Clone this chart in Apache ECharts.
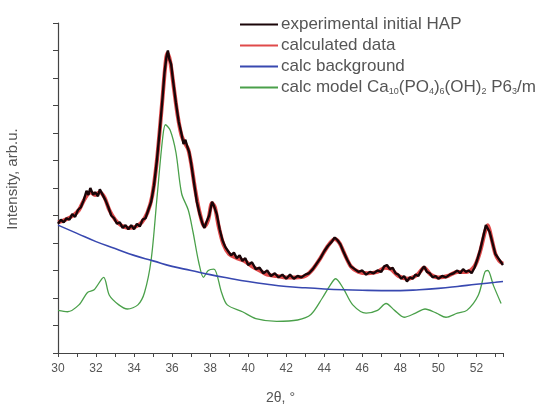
<!DOCTYPE html>
<html><head><meta charset="utf-8">
<script src="https://cdn.jsdelivr.net/npm/echarts@6/dist/echarts.min.js"></script>
<style>html,body{margin:0;padding:0;background:#fff}#c{width:545px;height:407px}</style>
</head><body><div id="c"></div>
<script>
const seriesNames = ['experimental initial HAP', 'calculated data', 'calc background', 'calc model'];
const xTicks = [30, 32, 34, 36, 38, 40, 42, 44, 46, 48, 50, 52];

const expX = [30.0,30.15,30.3,30.45,30.6,30.75,30.9,31.05,31.2,31.35,31.5,31.6,31.7,31.85,31.95,32.1,32.2,32.35,32.5,32.65,32.8,32.95,33.1,33.25,33.4,33.55,33.7,33.85,34.0,34.15,34.3,34.45,34.6,34.75,34.9,35.05,35.2,35.35,35.5,35.6,35.7,35.78,35.85,35.95,36.05,36.2,36.35,36.5,36.6,36.7,36.8,36.9,37.0,37.15,37.3,37.45,37.6,37.7,37.8,37.95,38.1,38.2,38.35,38.5,38.65,38.8,38.95,39.1,39.25,39.4,39.55,39.7,39.85,40.0,40.2,40.4,40.6,40.8,41.0,41.2,41.4,41.6,41.8,42.0,42.2,42.4,42.6,42.8,43.0,43.2,43.4,43.6,43.8,44.0,44.2,44.4,44.55,44.7,44.85,45.0,45.2,45.4,45.6,45.8,46.0,46.2,46.4,46.6,46.8,47.0,47.15,47.3,47.45,47.6,47.75,47.9,48.05,48.2,48.35,48.5,48.65,48.8,48.95,49.1,49.25,49.4,49.55,49.7,49.85,50.0,50.2,50.4,50.6,50.8,51.0,51.15,51.3,51.45,51.6,51.75,51.9,52.05,52.2,52.35,52.5,52.6,52.7,52.85,53.0,53.15,53.3,53.4];
const expY = [4.7,4.85,4.75,4.9,4.85,5.05,4.95,5.2,5.3,5.55,5.9,5.75,6.0,5.75,5.85,5.7,5.95,5.75,5.55,5.3,5.0,4.9,4.7,4.75,4.55,4.65,4.5,4.65,4.5,4.7,4.6,4.85,4.9,5.2,5.5,6.1,7.0,8.1,9.3,10.2,10.75,11.0,10.7,10.5,9.9,9.1,8.4,7.95,7.6,7.75,7.5,7.3,6.9,6.2,5.5,5.05,4.7,4.55,4.75,5.0,5.5,5.35,5.05,4.5,4.1,3.85,3.7,3.55,3.65,3.45,3.55,3.35,3.45,3.2,3.3,3.05,3.1,2.9,3.0,2.8,2.9,2.75,2.85,2.7,2.85,2.7,2.8,2.75,2.85,2.9,3.05,3.25,3.45,3.7,3.9,4.05,4.2,4.1,3.95,3.7,3.4,3.15,3.05,2.95,3.0,2.85,2.95,2.9,3.0,2.95,3.15,3.2,3.05,3.1,2.9,2.85,2.7,2.8,2.6,2.75,2.7,2.85,2.8,3.0,3.15,2.95,2.9,2.75,2.8,2.7,2.8,2.75,2.85,2.9,3.0,2.9,3.05,2.95,3.0,2.9,3.1,3.4,3.75,4.2,4.65,4.7,4.4,4.0,3.6,3.45,3.3,3.2];

const calcX = [30.0,30.4,30.8,31.1,31.4,31.7,31.95,32.2,32.45,32.7,33.0,33.3,33.7,34.1,34.4,34.7,34.95,35.2,35.45,35.65,35.75,35.9,36.1,36.3,36.5,36.7,36.85,37.0,37.2,37.45,37.7,37.9,38.1,38.25,38.45,38.7,39.0,39.4,39.8,40.2,40.6,41.0,41.5,42.0,42.5,43.0,43.4,43.8,44.2,44.55,44.8,45.1,45.4,45.8,46.3,46.8,47.2,47.5,47.9,48.4,48.9,49.25,49.6,50.0,50.5,51.0,51.5,51.9,52.2,52.45,52.6,52.75,53.0,53.2,53.4];
const calcY = [4.75,4.85,5.0,5.2,5.6,5.85,5.75,5.85,5.65,5.2,4.85,4.65,4.55,4.6,4.75,5.1,5.7,7.0,8.9,10.5,10.9,10.6,9.6,8.6,7.9,7.6,7.4,6.9,6.0,5.1,4.6,4.85,5.45,5.3,4.6,3.95,3.6,3.45,3.35,3.15,3.0,2.85,2.8,2.75,2.75,2.8,3.05,3.45,3.9,4.15,4.0,3.55,3.15,2.95,2.9,2.95,3.1,3.05,2.8,2.7,2.85,3.1,2.85,2.75,2.8,2.95,2.95,3.15,3.7,4.4,4.65,4.3,3.6,3.35,3.25];

const bgX = [30,31,32,33,34,35,36,37,38,39,40,41,42,43,44,45,46,47,48,49,50,51,52,53,53.4];
const bgY = [4.65,4.35,4.05,3.8,3.55,3.35,3.15,3.0,2.85,2.72,2.6,2.5,2.42,2.37,2.33,2.3,2.28,2.27,2.27,2.3,2.35,2.42,2.5,2.57,2.6];

const modelX = [30.0,30.5,31.1,31.55,31.9,32.4,32.7,33.2,33.65,34.2,34.55,34.9,35.2,35.5,35.65,35.9,36.2,36.5,36.85,37.1,37.4,37.65,37.9,38.2,38.6,38.9,39.7,40.4,41.5,42.6,43.3,43.9,44.3,44.6,45.0,45.5,46.2,46.8,47.25,47.7,48.2,48.8,49.3,49.9,50.4,51.0,51.5,52.1,52.45,52.6,52.9,53.3];
const modelY = [1.55,1.5,1.75,2.2,2.3,2.75,2.1,1.75,1.6,1.75,2.2,3.4,5.6,7.8,8.3,8.1,7.3,5.8,5.2,4.4,3.3,2.75,3.0,3.05,2.2,1.75,1.5,1.25,1.15,1.2,1.4,2.0,2.45,2.7,2.35,1.75,1.45,1.55,1.8,1.55,1.3,1.45,1.6,1.45,1.3,1.45,1.55,2.1,2.95,3.0,2.45,1.8];

function zip(a, b) { return a.map((v, i) => [v, b[i]]); }

const chart = echarts.init(document.getElementById('c'));
const font = 'Liberation Sans, Arial, sans-serif';
const txt = '#555';
chart.setOption({
  animation: false,
  grid: { left: 58, right: 42, top: 23, bottom: 54, containLabel: false, outerBoundsMode: 'none' },
  legend: {
    orient: 'vertical', left: 235, top: 11, itemWidth: 38, itemHeight: 2, itemGap: 4,
    icon: 'rect',
    data: seriesNames,
    formatter: function (n) {
      if (n === 'calc model') return '{n|calc model Ca}{s|10}{n|(PO}{s|4}{n|)}{s|6}{n|(OH)}{s|2}{n| P6}{s|3}{n|/m}';
      return n;
    },
    textStyle: {
      fontFamily: font, fontSize: 17, color: txt, padding: [0, 0, 0, -2],
      rich: {
        n: { fontFamily: font, fontSize: 17, color: txt, lineHeight: 17 },
        s: { fontFamily: font, fontSize: 9, color: txt, verticalAlign: 'bottom', lineHeight: 11 }
      }
    }
  },
  xAxis: {
    type: 'value', min: 30, max: 53.4, interval: 2,
    name: '2θ, °', nameLocation: 'middle', nameGap: 38,
    nameTextStyle: { fontFamily: font, fontSize: 14, color: txt },
    axisLine: { onZero: false, lineStyle: { color: '#444', width: 1.2 } },
    axisTick: { length: 4, lineStyle: { color: '#444' } },
    minorTick: { show: true, splitNumber: 2, length: 4, lineStyle: { color: '#444' } },
    axisLabel: { fontFamily: font, fontSize: 12, color: txt, margin: 10, showMaxLabel: false },
    splitLine: { show: false }
  },
  yAxis: {
    type: 'value', min: 0, max: 12, interval: 1,
    name: 'Intensity, arb.u.', nameLocation: 'middle', nameGap: 38,
    nameTextStyle: { fontFamily: font, fontSize: 15, color: txt, padding: [0, 0, 0, 18] },
    axisLine: { show: true, lineStyle: { color: '#444', width: 1.2 } },
    axisTick: { show: true, length: 5, lineStyle: { color: '#444' } },
    axisLabel: { show: false },
    splitLine: { show: false }
  },
  series: [
    { name: seriesNames[1], type: 'line', data: zip(calcX, calcY), showSymbol: false, smooth: 0.3, z: 2,
      lineStyle: { color: '#e04a4a', width: 4 }, itemStyle: { color: '#e04a4a' } },
    { name: seriesNames[0], type: 'line', data: zip(expX, expY), showSymbol: false, z: 3,
      lineStyle: { color: '#1a0508', width: 2.4 }, itemStyle: { color: '#1a0508' } },
    { name: seriesNames[2], type: 'line', data: zip(bgX, bgY), showSymbol: false, smooth: true, z: 4,
      lineStyle: { color: '#3848b0', width: 1.6 }, itemStyle: { color: '#3848b0' } },
    { name: seriesNames[3], type: 'line', data: zip(modelX, modelY), showSymbol: false, smooth: 0.3, z: 1,
      lineStyle: { color: '#4aa04a', width: 1.3 }, itemStyle: { color: '#4aa04a' } }
  ]
});
</script></body></html>
